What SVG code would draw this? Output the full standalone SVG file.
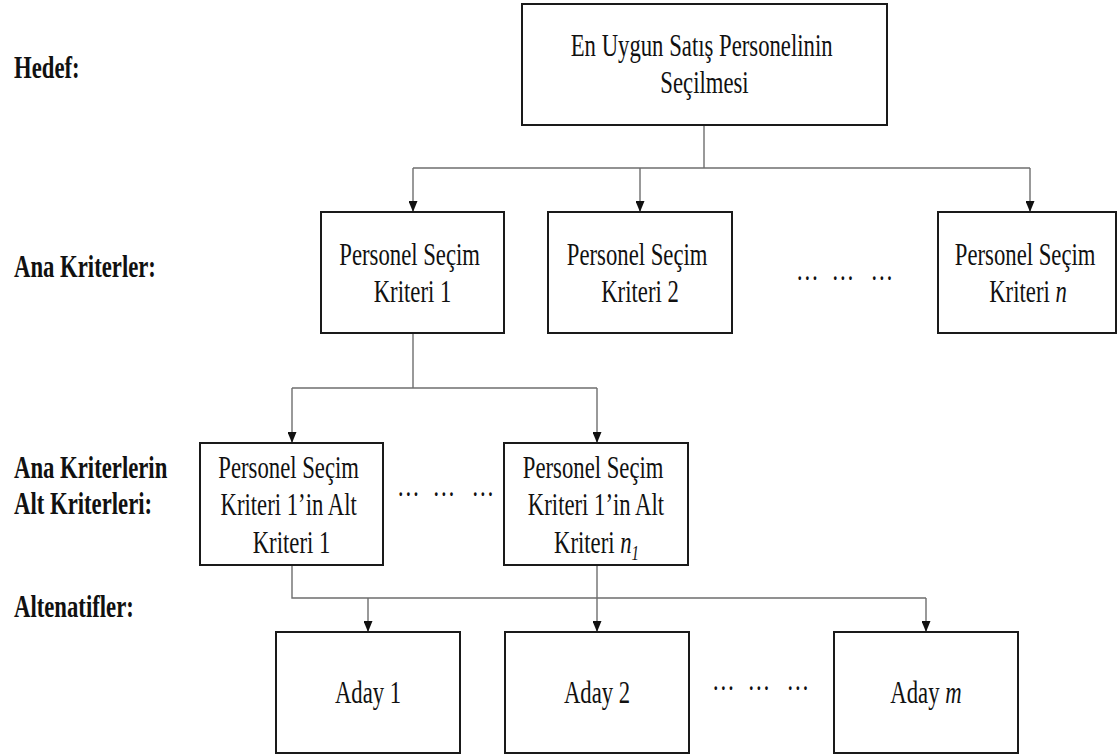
<svg xmlns="http://www.w3.org/2000/svg" width="1119" height="756" viewBox="0 0 1119 756">
  <style>
    .box { fill: #ffffff; stroke: #1a1a1a; stroke-width: 2; }
    .wire { fill: none; stroke: #6e6e6e; stroke-width: 1.4; }
    .txt { font-family: "Liberation Serif", "Times New Roman", serif; font-size: 32px; fill: #111111; }
    .mid { text-anchor: middle; }
    .lbl { font-family: "Liberation Serif", "Times New Roman", serif; font-size: 32px; font-weight: bold; fill: #111111; }
    .it { font-style: italic; }
  </style>
  <defs>
    <marker id="arrow" markerWidth="9" markerHeight="11" refX="4.5" refY="11" orient="0" markerUnits="userSpaceOnUse">
      <path d="M0,0 L9,0 L4.5,11 Z" fill="#111111"/>
    </marker>
  </defs>

  <!-- level labels -->
  <g id="levels">
    <text class="lbl" transform="translate(14,78) scale(0.71,1)">Hedef:</text>
    <text class="lbl" transform="translate(14,277) scale(0.71,1)">Ana Kriterler:</text>
    <text class="lbl" transform="translate(14,478) scale(0.71,1)">Ana Kriterlerin</text>
    <text class="lbl" transform="translate(14,514) scale(0.71,1)">Alt Kriterleri:</text>
    <text class="lbl" transform="translate(14,617) scale(0.71,1)">Altenatifler:</text>
  </g>

  <!-- connectors -->
  <g id="connectors">
    <path class="wire" d="M704,125 V168"/>
    <path class="wire" d="M413,168 H1030"/>
    <path class="wire" d="M413,168 V212" marker-end="url(#arrow)"/>
    <path class="wire" d="M640,168 V212" marker-end="url(#arrow)"/>
    <path class="wire" d="M1030,168 V212" marker-end="url(#arrow)"/>

    <path class="wire" d="M413,333 V388"/>
    <path class="wire" d="M292,388 H597"/>
    <path class="wire" d="M292,388 V443" marker-end="url(#arrow)"/>
    <path class="wire" d="M597,388 V443" marker-end="url(#arrow)"/>

    <path class="wire" d="M292,565 V598 H926"/>
    <path class="wire" d="M597,565 V632" marker-end="url(#arrow)"/>
    <path class="wire" d="M368,598 V632" marker-end="url(#arrow)"/>
    <path class="wire" d="M926,598 V632" marker-end="url(#arrow)"/>
  </g>

  <!-- goal -->
  <g id="goal">
    <rect class="box" x="522" y="4" width="365" height="121"/>
    <text class="txt mid" transform="translate(704.5,56) scale(0.71,1)">
      <tspan x="0">En Uygun Satış Personelinin</tspan>
      <tspan x="0" dy="37">Seçilmesi</tspan>
    </text>
  </g>

  <!-- main criteria -->
  <g id="criterion-1">
    <rect class="box" x="321" y="212" width="183" height="121"/>
    <text class="txt mid" transform="translate(412.5,265) scale(0.71,1)">
      <tspan x="0">Personel Seçim</tspan>
      <tspan x="0" dy="37">Kriteri 1</tspan>
    </text>
  </g>
  <g id="criterion-2">
    <rect class="box" x="548" y="212" width="184" height="121"/>
    <text class="txt mid" transform="translate(640,265) scale(0.71,1)">
      <tspan x="0">Personel Seçim</tspan>
      <tspan x="0" dy="37">Kriteri 2</tspan>
    </text>
  </g>
  <g id="criteria-ellipsis">
    <text class="txt" transform="translate(796,280) scale(0.71,1)"><tspan x="0">…</tspan><tspan x="50">…</tspan><tspan x="105">…</tspan></text>
  </g>
  <g id="criterion-n">
    <rect class="box" x="938" y="212" width="178" height="121"/>
    <text class="txt mid" transform="translate(1028,265) scale(0.71,1)">
      <tspan x="0">Personel Seçim</tspan>
      <tspan x="0" dy="37">Kriteri <tspan class="it">n</tspan></tspan>
    </text>
  </g>

  <!-- sub-criteria -->
  <g id="subcriterion-1">
    <rect class="box" x="200" y="443" width="183" height="122"/>
    <text class="txt mid" transform="translate(291.5,478) scale(0.71,1)">
      <tspan x="0">Personel Seçim</tspan>
      <tspan x="0" dy="37.5">Kriteri 1’in Alt</tspan>
      <tspan x="0" dy="37.5">Kriteri 1</tspan>
    </text>
  </g>
  <g id="subcriteria-ellipsis">
    <text class="txt" transform="translate(397,496) scale(0.71,1)"><tspan x="0">…</tspan><tspan x="50">…</tspan><tspan x="105">…</tspan></text>
  </g>
  <g id="subcriterion-n1">
    <rect class="box" x="504" y="443" width="184" height="122"/>
    <text class="txt mid" transform="translate(596,478) scale(0.71,1)">
      <tspan x="0">Personel Seçim</tspan>
      <tspan x="0" dy="37.5">Kriteri 1’in Alt</tspan>
    </text>
    <text class="txt" transform="translate(554,553) scale(0.71,1)">Kriteri <tspan class="it">n</tspan><tspan class="it" font-size="21" dy="7">1</tspan></text>
  </g>

  <!-- alternatives -->
  <g id="candidate-1">
    <rect class="box" x="276" y="632" width="184" height="121"/>
    <text class="txt mid" transform="translate(368,703) scale(0.71,1)">Aday 1</text>
  </g>
  <g id="candidate-2">
    <rect class="box" x="505" y="632" width="184" height="121"/>
    <text class="txt mid" transform="translate(597,703) scale(0.71,1)">Aday 2</text>
  </g>
  <g id="candidates-ellipsis">
    <text class="txt" transform="translate(712,690) scale(0.71,1)"><tspan x="0">…</tspan><tspan x="50">…</tspan><tspan x="105">…</tspan></text>
  </g>
  <g id="candidate-m">
    <rect class="box" x="834" y="632" width="184" height="121"/>
    <text class="txt mid" transform="translate(926,703) scale(0.71,1)">Aday <tspan class="it">m</tspan></text>
  </g>
</svg>
